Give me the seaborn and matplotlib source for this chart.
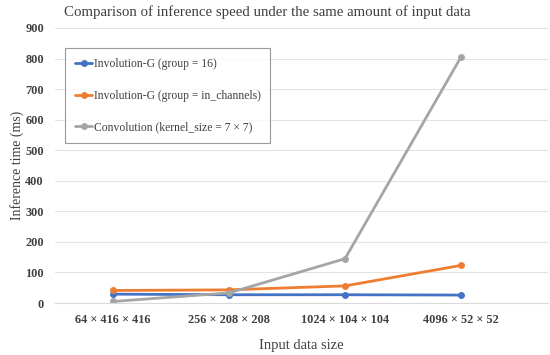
import matplotlib
matplotlib.use("Agg")
import matplotlib.pyplot as plt
import pandas as pd
import seaborn as sns

# data
sizes = ["64 × 416 × 416", "256 × 208 × 208", "1024 × 104 × 104", "4096 × 52 × 52"]
invol_16 = [29, 27, 27, 26]
invol_inch = [41, 43, 56, 123]
conv_7x7 = [5, 33, 145, 805]
series_names = ["Involution-G (group = 16)",
                "Involution-G (group = in_channels)",
                "Convolution (kernel_size = 7 × 7)"]
colors = ["#4472C4", "#ED7D31", "#A5A5A5"]

df = pd.DataFrame({
    "size": sizes * 3,
    "time": invol_16 + invol_inch + conv_7x7,
    "model": [series_names[0]] * 4 + [series_names[1]] * 4 + [series_names[2]] * 4,
})

sns.set_style("white")
plt.rcParams["font.family"] = ["Liberation Serif", "DejaVu Serif"]

fig = plt.figure(figsize=(5.5, 3.55), dpi=100)
ax = fig.add_axes([55 / 550, 52 / 355, 493 / 550, 275 / 355])

sns.lineplot(data=df, x="size", y="time", hue="model", palette=colors,
             marker="o", markersize=5, markeredgewidth=0, linewidth=2,
             sort=False, ax=ax)

ax.set_ylim(0, 900)
ax.set_xlim(-0.5, 3.75)
ax.set_yticks(range(0, 1000, 100))
ax.grid(axis="y", color="#e3e3e3", linewidth=0.8)
ax.set_axisbelow(True)
for s in ["top", "right", "left"]:
    ax.spines[s].set_visible(False)
ax.spines["bottom"].set_color("#d9d9d9")
ax.tick_params(axis="both", length=0, labelsize=8.8, colors="#404040", pad=8)
for lbl in ax.get_xticklabels() + ax.get_yticklabels():
    lbl.set_fontweight("bold")
ax.tick_params(axis="x", pad=8)

ax.set_xlabel("Input data size", fontsize=10.5, color="#404040", labelpad=9)
ax.set_ylabel("Inference time (ms)", fontsize=10, color="#404040", labelpad=1)
fig.suptitle("Comparison of inference speed under the same amount of input data",
             fontsize=10.7, color="#404040", x=0.485, y=0.985)

leg = ax.legend(loc="upper left", bbox_to_anchor=(10 / 493, 1 - 20 / 275),
                fontsize=8.4, frameon=True, fancybox=False, handlelength=1.5,
                handletextpad=0.1, labelspacing=1.7, borderpad=0.85,
                borderaxespad=0)
leg.get_frame().set_edgecolor("#808080")
leg.get_frame().set_linewidth(0.8)
for t in leg.get_texts():
    t.set_color("#404040")

fig.savefig("out.png", dpi=100)
